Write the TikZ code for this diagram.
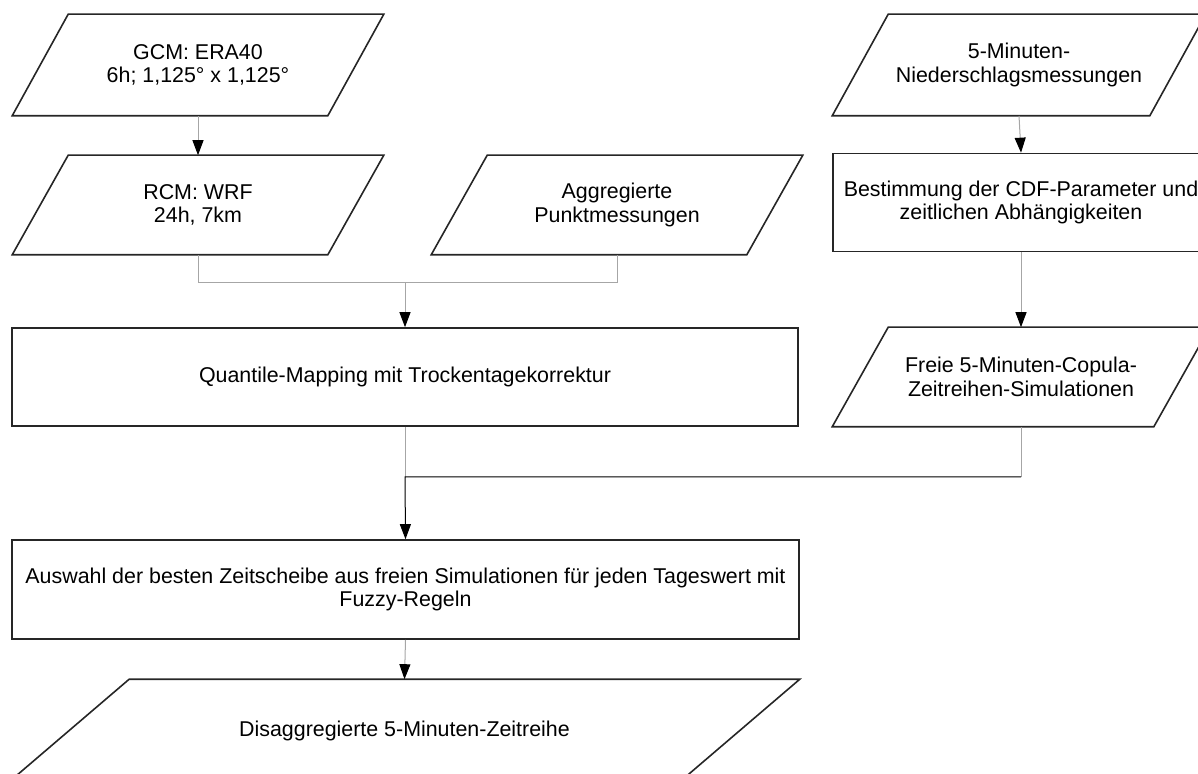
\documentclass[tikz,border=0pt]{standalone}
\usepackage{fontspec}
\setmainfont{Liberation Sans}
\usepackage{tikz}
\usetikzlibrary{arrows.meta,positioning}

\begin{document}
\begin{tikzpicture}[x=0.5pt, y=-0.5pt,
    every node/.style={font=\fontsize{10.7pt}{11.8pt}\selectfont, align=center},
    databox/.style={rectangle, line width=0.8pt, minimum width=185pt, minimum height=50pt, inner sep=0pt},
    procbox/.style={draw=black!85, line width=0.8pt, rectangle, minimum height=49pt, inner sep=0pt},
    outline/.style={draw=black!85, line width=0.8pt, line join=miter},
    link/.style={draw=black!35, line width=0.5pt},
    tip/.style={-{Triangle[length=7.5pt,width=5.5pt,color=black,fill=black]}}]
    \useasboundingbox (0,0) rectangle (1198,774);
    \clip (0,0) rectangle (1198,774);

    % Left branch: model data
    \node[databox] (gcm) at (198,65) {GCM: ERA40\\6h; 1,125° x 1,125°};
    \node[databox, minimum height=49pt] (rcm) at (198,205) {RCM: WRF\\24h, 7km};
    \node[databox, minimum height=49pt] (agg) at (617,205) {Aggregierte\\Punktmessungen};
    \node[procbox, minimum width=393pt] (qm) at (405,377) {Quantile-Mapping mit Trockentagekorrektur};

    % Right branch: 5-minute data
    \node[databox, minimum width=186pt] (mess) at (1019,65) {5-Minuten-\\Niederschlagsmessungen};
    \node[procbox, minimum width=188pt] (cdf) at (1021,202.5) {Bestimmung der CDF-Parameter und\\zeitlichen Abhängigkeiten};
    \node[databox, minimum height=49pt, minimum width=188pt] (copula) at (1021,377) {Freie 5-Minuten-Copula-\\Zeitreihen-Simulationen};

    % Disaggregation
    \node[procbox, minimum width=393.5pt, minimum height=49.5pt] (fuzzy) at (405.5,589.5)
        {Auswahl der besten Zeitscheibe aus freien Simulationen für jeden Tageswert mit\\Fuzzy-Regeln};
    \node[databox, minimum width=394.5pt, minimum height=50.5pt] (disagg) at (404.5,730.5)
        {Disaggregierte 5-Minuten-Zeitreihe};

    % Parallelogram outlines of the data nodes
    \foreach \n/\s in {gcm/28pt, rcm/28pt, agg/28pt, mess/28pt, copula/28pt, disagg/60pt}
        \draw[outline] ([xshift=\s]\n.north west) -- (\n.north east)
            -- ([xshift=-\s]\n.south east) -- (\n.south west) -- cycle;

    % Junctions
    \coordinate (jqm) at (405,283);
    \coordinate (jfz) at (405,477);
    \coordinate (jcop) at (copula.south |- jfz);

    % Connectors
    \draw[link, tip] (gcm.south) -- (rcm.north);
    \draw[link] (rcm.south) |- (jqm);
    \draw[link] (agg.south) |- (jqm);
    \draw[link, tip] (jqm) -- (qm.north);
    \draw[link, tip] (mess.south) -- (cdf.north);
    \draw[link, tip] (cdf.south) -- (copula.north);
    \draw[link] (qm.south) -- (jfz);
    \draw[link] (copula.south) -- (jcop);
    \draw[black, line width=0.5pt, tip] (jcop) -- (jfz) -- (fuzzy.north);
    \draw[link, tip] (fuzzy.south) -- (disagg.north);
\end{tikzpicture}
\end{document}
